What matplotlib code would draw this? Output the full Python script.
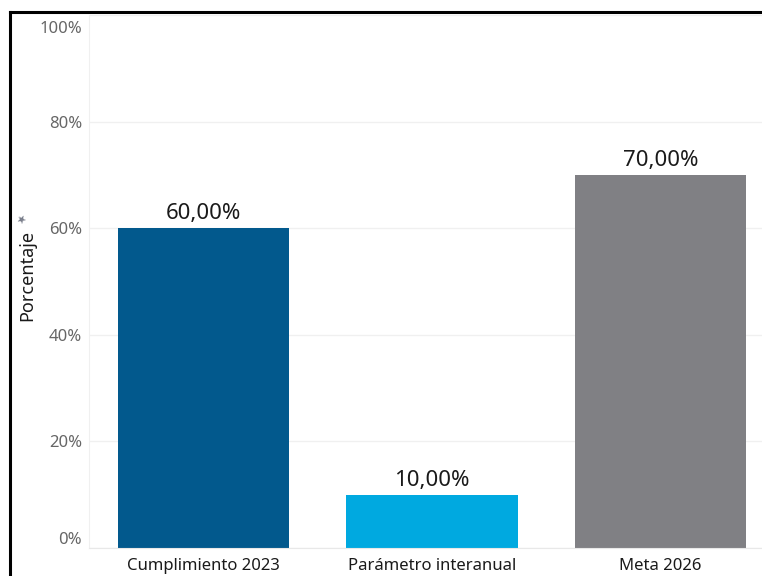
import matplotlib
matplotlib.use("Agg")
import matplotlib.pyplot as plt
from matplotlib.lines import Line2D
from matplotlib.ticker import FuncFormatter
from matplotlib.transforms import ScaledTranslation

# Datos del gráfico
categorias = ["Cumplimiento 2023", "Parámetro interanual", "Meta 2026"]
valores = [60, 10, 70]
etiquetas = ["60,00%", "10,00%", "70,00%"]
colores = ["#02598D", "#00A9E0", "#808084"]
ticks_y = [0, 20, 40, 60, 80, 100]

plt.rcParams["font.family"] = ["Noto Sans", "DejaVu Sans"]

fig = plt.figure(figsize=(7.62, 5.76), dpi=100)
ax = fig.add_axes([89 / 762, 28 / 576, 1 - 89 / 762, (548 - 15) / 576])

x = range(len(categorias))
ax.bar(x, valores, width=0.75, color=colores, zorder=2)

for xi, v, txt in zip(x, valores, etiquetas):
    ax.annotate(txt, (xi, v), xytext=(0, 3), textcoords="offset points",
                ha="center", va="bottom", fontsize=16, color="#1a1a1a")

ax.set_xlim(-0.5, 2.444)
ax.set_ylim(0, 100)
ax.set_xticks(list(x))
ax.set_xticklabels(categorias, fontsize=12, color="#1a1a1a")
ax.set_yticks(ticks_y)
ax.yaxis.set_major_formatter(FuncFormatter(lambda v, p: f"{v:.0f}%"))
ax.tick_params(axis="y", labelsize=12, labelcolor="#666666", length=0, pad=5)
ax.tick_params(axis="x", length=0, pad=7)

# ajustar etiquetas extremas como en el original
for lbl in ax.get_yticklabels():
    if lbl.get_text() == "100%":
        lbl.set_va("top")
        lbl.set_transform(lbl.get_transform() + ScaledTranslation(0, -0.06, fig.dpi_scale_trans))
    elif lbl.get_text() == "0%":
        lbl.set_va("bottom")

ax.grid(axis="y", color="#f0f0f0", linewidth=1, zorder=0)
for lado in ["top", "right"]:
    ax.spines[lado].set_visible(False)
ax.spines["left"].set_color("#f0f0f0")
ax.spines["bottom"].set_color("#e8e8e8")

fig.text(27 / 762, 1 - 275 / 576, "Porcentaje", fontsize=13, color="#1a1a1a",
         rotation=90, ha="center", va="center")
fig.text(23 / 762, 1 - 221 / 576, "★", fontsize=8, color="#7a7f8c",
         rotation=45, ha="center", va="center")

# marco negro
fig.add_artist(Line2D([10 / 762, 1], [1 - 12 / 576, 1 - 12 / 576], color="black", linewidth=2.2))
fig.add_artist(Line2D([10 / 762, 10 / 762], [0, 1 - 12 / 576], color="black", linewidth=2.2))

fig.savefig("out.png", dpi=100)
